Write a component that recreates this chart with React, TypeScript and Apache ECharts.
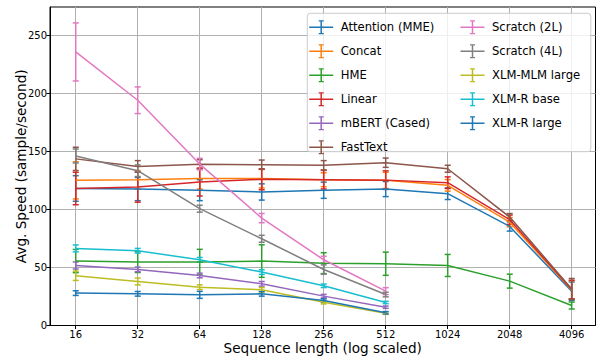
import React, { useEffect, useRef } from "react";
import * as echarts from "echarts";

const lengths = [16, 32, 64, 128, 256, 512, 1024, 2048, 4096];
const yTicks = [0, 50, 100, 150, 200, 250];

const attention = [118, 117.5, 116.5, 115, 116.5, 117.5, 113.5, 85.3, 29.5];
const attentionErr = [11, 10, 9, 7, 7, 6.5, 5, 4, 8];
const concat = [125, 125.5, 126.5, 126.5, 125.5, 125, 120.7, 89, 30.5];
const concatErr = [16, 8, 9, 8, 6, 7, 5, 4, 8];
const hme = [55.5, 54.6, 54.6, 55.5, 53.7, 53.2, 51.7, 38.2, 17.2];
const hmeErr = [10, 9, 11, 14, 9, 10, 9.5, 6, 3];
const linear = [118, 119.2, 123.5, 125.9, 125.6, 125.2, 123, 91.1, 31];
const linearErr = [14, 13, 12, 9, 8, 8, 5, 4, 8];
const mbert = [51.7, 48.3, 43.1, 35.9, 25.3, 15.8];
const mbertErr = [3, 2, 2, 2, 1.5, 1];
const fasttext = [143.5, 137, 138.8, 138.5, 138, 140.2, 135, 93.4, 31.5];
const fasttextErr = [10, 5, 4, 4, 4, 4, 3, 3, 9];
const scratch2 = [235.6, 194, 139, 92.5, 56.6, 29.6];
const scratch2Err = [25, 11.5, 5, 4, 3, 3];
const scratch4 = [146, 133.3, 100.6, 74.7, 48.2, 26.7];
const scratch4Err = [6, 5, 3, 3, 4, 2];
const xlmMlm = [42.8, 37.9, 33, 30.7, 20.1, 10.6];
const xlmMlmErr = [4, 3, 2, 2, 1.5, 1];
const xlmrBase = [66.4, 64.4, 56.6, 46, 34.2, 19.8];
const xlmrBaseErr = [3, 2, 2, 2, 1.5, 1];
const xlmrLarge = [27.9, 27.3, 26.4, 27.3, 21.5, 11];
const xlmrLargeErr = [2, 2, 3, 2, 1.5, 1];

const seriesDefs = [
  { name: "Attention (MME)", color: "#1f77b4", values: attention, errors: attentionErr },
  { name: "Concat", color: "#ff7f0e", values: concat, errors: concatErr },
  { name: "HME", color: "#2ca02c", values: hme, errors: hmeErr },
  { name: "Linear", color: "#d62728", values: linear, errors: linearErr },
  { name: "mBERT (Cased)", color: "#9467bd", values: mbert, errors: mbertErr },
  { name: "FastText", color: "#8c564b", values: fasttext, errors: fasttextErr },
  { name: "Scratch (2L)", color: "#e377c2", values: scratch2, errors: scratch2Err },
  { name: "Scratch (4L)", color: "#7f7f7f", values: scratch4, errors: scratch4Err },
  { name: "XLM-MLM large", color: "#bcbd22", values: xlmMlm, errors: xlmMlmErr },
  { name: "XLM-R base", color: "#17becf", values: xlmrBase, errors: xlmrBaseErr },
  { name: "XLM-R large", color: "#1f77b4", values: xlmrLarge, errors: xlmrLargeErr },
];

const FONT = "DejaVu Sans";
const ICON =
  "path://M0,6.25H24V7.75H0Z M11.25,0H12.75V14H11.25Z M9.5,0H14.5V1.3H9.5Z M9.5,12.7H14.5V14H9.5Z";

export default function App() {
  const ref = useRef<HTMLDivElement>(null);
  useEffect(() => {
    document.body.style.margin = "0";
    if (!ref.current) return;
    const chart = echarts.init(ref.current, undefined, { renderer: "svg" });

    const series: any[] = [];
    seriesDefs.forEach((s) => {
      series.push({
        type: "line",
        name: s.name,
        data: s.values.map((v, i) => [lengths[i], v]),
        symbol: "none",
        lineStyle: { color: s.color, width: 1.5 },
        itemStyle: { color: s.color },
        z: 2,
      });
      series.push({
        type: "custom",
        name: s.name,
        data: s.values.map((v, i) => [lengths[i], v - s.errors[i], v + s.errors[i]]),
        encode: { x: 0, y: [1, 2] },
        itemStyle: { color: s.color },
        z: 2,
        renderItem: (params: any, api: any) => {
          const x = api.value(0);
          const p1 = api.coord([x, api.value(1)]);
          const p2 = api.coord([x, api.value(2)]);
          const style = { stroke: s.color, lineWidth: 1.5, fill: "none" };
          const cw = 3;
          return {
            type: "group",
            children: [
              { type: "line", shape: { x1: p1[0], y1: p1[1], x2: p2[0], y2: p2[1] }, style },
              { type: "line", shape: { x1: p1[0] - cw, y1: p1[1], x2: p1[0] + cw, y2: p1[1] }, style },
              { type: "line", shape: { x1: p2[0] - cw, y1: p2[1], x2: p2[0] + cw, y2: p2[1] }, style },
            ],
          };
        },
      });
    });

    const legendCommon = {
      orient: "vertical",
      top: 20.3,
      padding: 0,
      itemWidth: 29,
      itemHeight: 14,
      itemGap: 10,
      selectedMode: false,
      itemStyle: { borderWidth: 0 },
      textStyle: { fontFamily: FONT, fontSize: 11.6, color: "#000", lineHeight: 14 },
      z: 5,
    };

    const names = seriesDefs.map((s) => s.name);

    chart.setOption({
      animation: false,
      textStyle: { fontFamily: FONT },
      grid: {
        left: 50,
        right: 1.5,
        top: 7,
        bottom: 30.5,
        show: true,
        borderColor: "#000",
        borderWidth: 1,
        backgroundColor: "transparent",
        containLabel: false,
        outerBoundsMode: "none",
      },
      xAxis: {
        type: "log",
        logBase: 2,
        min: 12.0,
        max: 5345,
        name: "Sequence length (log scaled)",
        nameLocation: "middle",
        nameGap: 15,
        nameMoveOverlap: false,
        nameTextStyle: {
          fontFamily: FONT,
          fontSize: 13.6,
          color: "#000",
          verticalAlign: "top",
          lineHeight: 14,
        },
        axisLine: { show: true, lineStyle: { color: "#000", width: 1 } },
        axisTick: {
          show: true,
          customValues: lengths,
          length: 3.5,
          inside: false,
          lineStyle: { color: "#000", width: 1 },
        },
        axisLabel: {
          customValues: lengths,
          fontFamily: FONT,
          fontSize: 10,
          lineHeight: 10,
          color: "#000",
          margin: 4,
          formatter: (v: number) => String(Math.round(v)),
        },
        splitLine: { show: true, lineStyle: { color: "#b0b0b0", width: 1 } },
      },
      yAxis: {
        type: "value",
        min: 0,
        max: 274.3,
        name: "Avg. Speed (sample/second)",
        nameLocation: "middle",
        nameGap: 22,
        nameMoveOverlap: false,
        nameTextStyle: { fontFamily: FONT, fontSize: 13.6, color: "#000" },
        axisLine: { show: true, lineStyle: { color: "#000", width: 1 } },
        axisTick: {
          show: true,
          customValues: yTicks,
          length: 3.5,
          lineStyle: { color: "#000", width: 1 },
        },
        axisLabel: {
          customValues: yTicks,
          fontFamily: FONT,
          fontSize: 10,
          color: "#000",
          margin: 3,
        },
        splitLine: { show: true, lineStyle: { color: "#b0b0b0", width: 1 } },
      },
      legend: [
        {
          ...legendCommon,
          left: 309.2,
          data: names.slice(0, 6).map((n) => ({ name: n, icon: ICON })),
        },
        {
          ...legendCommon,
          left: 460.5,
          data: names.slice(6).map((n) => ({ name: n, icon: ICON })),
        },
      ],
      graphic: [
        {
          type: "rect",
          z: 4,
          shape: { x: 307.3, y: 13.3, width: 283.5, height: 138.4, r: 3 },
          style: { fill: "rgba(255,255,255,0.8)", stroke: "#cccccc", lineWidth: 1 },
        },
      ],
      series,
    });
    return () => chart.dispose();
  }, []);
  return <div ref={ref} style={{ width: 597, height: 356 }} />;
}
